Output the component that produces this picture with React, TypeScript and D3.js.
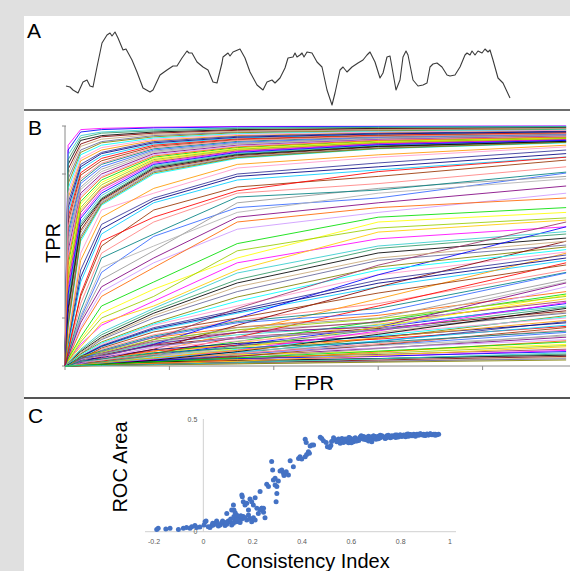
import React from "react";
import * as d3 from "d3";

const W = 570;
const H = 571;

// ---------- Panel A: signal trace ----------
const signalTime = [0,4,7,12,17,21,24,27,31,36,41,44,46,49,52,57,60,66,71,77,84,87,94,101,107,111,116,121,123,126,131,137,142,147,151,156,157,162,164,167,174,179,184,191,197,201,206,209,214,219,222,227,229,231,234,236,238,241,246,251,256,261,266,269,274,277,281,286,292,297,301,304,309,314,317,321,324,327,330,334,337,340,342,347,352,357,361,364,367,371,376,381,384,389,394,399,401,404,406,409,412,416,419,422,424,427,432,437,444];
const signalValue = [24,23,20,17,28,30,24,23,43,67,75,77,74,78,72,60,61,50,38,22,18,20,35,40,44,44,52,59,57,57,48,43,40,28,27,47,53,57,54,58,61,52,38,25,20,28,30,27,32,42,52,53,57,53,55,57,53,58,57,48,43,20,5,17,40,43,38,43,47,50,55,58,48,32,37,53,54,37,20,30,53,59,55,30,24,25,27,43,46,47,43,35,34,35,43,55,57,55,59,55,59,57,61,58,60,50,32,27,12];

// ---------- Panel B: ROC curves (TPR at each FPR breakpoint after 0) ----------
const fprBreaks = [0, 0.006, 0.03, 0.07, 0.17, 0.33, 0.6, 0.96];
const rocTopCurves = [
  [0.92,0.985,0.99,0.995,0.998,0.999,1.0],
  [0.90,0.975,0.985,0.992,0.996,0.998,0.999],
  [0.88,0.96,0.975,0.985,0.992,0.996,0.998],
  [0.86,0.95,0.97,0.98,0.99,0.994,0.996],
  [0.84,0.94,0.96,0.975,0.985,0.99,0.994],
  [0.82,0.925,0.955,0.97,0.982,0.988,0.992],
  [0.80,0.915,0.945,0.965,0.978,0.985,0.99],
  [0.78,0.90,0.935,0.96,0.975,0.983,0.988],
  [0.76,0.89,0.93,0.955,0.972,0.98,0.986],
  [0.74,0.88,0.92,0.95,0.968,0.977,0.984],
  [0.72,0.865,0.91,0.945,0.965,0.975,0.982],
  [0.70,0.855,0.90,0.94,0.96,0.972,0.98],
  [0.68,0.84,0.89,0.935,0.957,0.97,0.978],
  [0.66,0.83,0.885,0.93,0.953,0.967,0.976],
  [0.64,0.82,0.875,0.925,0.95,0.965,0.974],
  [0.62,0.805,0.865,0.92,0.946,0.962,0.972],
  [0.60,0.795,0.855,0.915,0.943,0.96,0.97],
  [0.58,0.78,0.845,0.91,0.94,0.957,0.968],
  [0.56,0.77,0.84,0.905,0.936,0.955,0.966],
  [0.54,0.76,0.83,0.90,0.932,0.952,0.964],
  [0.52,0.745,0.82,0.895,0.928,0.95,0.962],
  [0.50,0.735,0.81,0.89,0.925,0.947,0.96],
  [0.48,0.72,0.80,0.885,0.92,0.944,0.958],
  [0.46,0.71,0.79,0.88,0.917,0.942,0.956],
  [0.44,0.70,0.785,0.875,0.913,0.94,0.954],
  [0.42,0.685,0.775,0.87,0.91,0.937,0.952],
  [0.40,0.675,0.765,0.865,0.906,0.935,0.95],
  [0.38,0.66,0.755,0.86,0.903,0.932,0.948],
  [0.36,0.65,0.745,0.855,0.90,0.93,0.946],
  [0.34,0.64,0.74,0.85,0.896,0.927,0.944],
  [0.32,0.625,0.73,0.845,0.893,0.925,0.942],
  [0.30,0.615,0.72,0.84,0.89,0.922,0.94],
  [0.28,0.60,0.71,0.835,0.886,0.92,0.938],
  [0.26,0.59,0.70,0.83,0.883,0.917,0.937],
  [0.24,0.58,0.695,0.825,0.88,0.915,0.936],
  [0.22,0.565,0.69,0.82,0.876,0.913,0.935],
  [0.20,0.555,0.685,0.815,0.873,0.91,0.934],
  [0.18,0.54,0.68,0.81,0.87,0.908,0.933],
  [0.17,0.53,0.675,0.805,0.868,0.906,0.932],
  [0.16,0.52,0.67,0.80,0.865,0.905,0.93],
];
const rocMidCurves = [
  [0.12,0.47,0.65,0.72,0.825,0.87,0.913],
  [0.11,0.44,0.62,0.74,0.84,0.88,0.92],
  [0.10,0.40,0.59,0.70,0.80,0.846,0.90],
  [0.09,0.37,0.57,0.69,0.79,0.83,0.885],
  [0.08,0.35,0.55,0.68,0.775,0.817,0.871],
  [0.06,0.30,0.52,0.62,0.73,0.81,0.87],
  [0.07,0.29,0.50,0.65,0.746,0.79,0.858],
  [0.06,0.26,0.47,0.60,0.72,0.76,0.83],
  [0.05,0.23,0.45,0.55,0.704,0.733,0.808],
  [0.05,0.20,0.39,0.54,0.66,0.70,0.804],
  [0.04,0.19,0.36,0.48,0.68,0.74,0.79],
  [0.045,0.21,0.41,0.50,0.64,0.72,0.78],
  [0.04,0.18,0.33,0.45,0.62,0.68,0.75],
  [0.035,0.16,0.31,0.43,0.57,0.64,0.72],
  [0.03,0.15,0.29,0.41,0.60,0.66,0.70],
  [0.03,0.12,0.25,0.35,0.51,0.62,0.66],
  [0.025,0.11,0.22,0.32,0.45,0.60,0.64],
  [0.02,0.10,0.20,0.29,0.48,0.575,0.617],
  [0.02,0.08,0.18,0.25,0.40,0.558,0.608],
  [0.004,0.02,0.05,0.11,0.24,0.42,0.60],
  [0.02,0.09,0.17,0.27,0.43,0.53,0.58],
  [0.003,0.015,0.04,0.09,0.20,0.38,0.58],
  [0.015,0.07,0.14,0.24,0.3875,0.50,0.56],
  [0.012,0.065,0.13,0.23,0.36,0.49,0.55],
  [0.01,0.06,0.12,0.22,0.346,0.471,0.533],
  [0.002,0.01,0.03,0.07,0.17,0.33,0.52],
  [0.01,0.055,0.115,0.21,0.33,0.45,0.52],
  [0.01,0.05,0.11,0.20,0.31,0.44,0.504],
  [0.008,0.05,0.10,0.18,0.2875,0.4125,0.496],
  [0.007,0.045,0.095,0.175,0.27,0.40,0.485],
  [0.006,0.04,0.09,0.17,0.25,0.38,0.475],
  [0.002,0.01,0.03,0.06,0.14,0.28,0.47],
  [0.005,0.04,0.085,0.16,0.233,0.358,0.4625],
  [0.005,0.038,0.082,0.155,0.225,0.345,0.45],
  [0.004,0.035,0.08,0.15,0.22,0.33,0.44],
  [0.001,0.008,0.02,0.05,0.12,0.25,0.43],
  [0.003,0.03,0.075,0.142,0.20,0.304,0.421],
  [0.003,0.03,0.07,0.13,0.19,0.26,0.40],
  [0.003,0.028,0.065,0.125,0.185,0.24,0.39],
  [0.002,0.025,0.06,0.12,0.18,0.221,0.3875],
  [0.002,0.02,0.05,0.10,0.16,0.20,0.36],
  [0.002,0.018,0.045,0.095,0.15,0.18,0.35],
  [0.001,0.015,0.04,0.09,0.14,0.1625,0.346],
  [0.001,0.01,0.03,0.08,0.12,0.15,0.33],
];
const rocLowCurves = [
  [0,0.043,0.062,0.118,0.161,0.211,0.31],
  [0,0.009,0.021,0.054,0.102,0.186,0.30],
  [0,0.003,0.009,0.03,0.074,0.162,0.295],
  [0,0.041,0.058,0.11,0.151,0.197,0.29],
  [0,0.008,0.02,0.05,0.095,0.174,0.28],
  [0,0.038,0.054,0.103,0.14,0.184,0.27],
  [0,0.003,0.008,0.027,0.066,0.146,0.265],
  [0,0.008,0.018,0.047,0.088,0.161,0.26],
  [0,0.035,0.05,0.095,0.13,0.17,0.25],
  [0,0.007,0.017,0.044,0.083,0.152,0.245],
  [0,0.002,0.007,0.024,0.06,0.132,0.24],
  [0,0.032,0.046,0.087,0.12,0.156,0.23],
  [0,0.007,0.016,0.041,0.077,0.14,0.225],
  [0,0.031,0.044,0.084,0.114,0.15,0.22],
  [0,0.002,0.006,0.021,0.053,0.116,0.21],
  [0,0.006,0.014,0.037,0.07,0.127,0.205],
  [0,0.028,0.04,0.076,0.104,0.136,0.20],
  [0,0.006,0.013,0.034,0.065,0.118,0.19],
  [0,0.002,0.006,0.019,0.046,0.102,0.185],
  [0,0.025,0.036,0.068,0.094,0.122,0.18],
  [0,0.005,0.012,0.031,0.058,0.105,0.17],
  [0,0.023,0.033,0.063,0.086,0.112,0.165],
  [0,0.002,0.005,0.016,0.04,0.088,0.16],
  [0,0.005,0.011,0.027,0.051,0.093,0.15],
  [0,0.02,0.029,0.055,0.075,0.099,0.145],
  [0,0.004,0.01,0.025,0.048,0.087,0.14],
  [0,0.001,0.004,0.013,0.033,0.072,0.13],
  [0,0.018,0.025,0.048,0.065,0.085,0.125],
  [0,0.004,0.008,0.022,0.041,0.074,0.12],
  [0,0.015,0.022,0.042,0.057,0.075,0.11],
  [0,0.001,0.003,0.011,0.026,0.058,0.105],
  [0,0.003,0.007,0.018,0.034,0.062,0.10],
  [0,0.013,0.018,0.034,0.047,0.061,0.09],
  [0,0.003,0.006,0.015,0.029,0.053,0.085],
  [0,0.001,0.002,0.008,0.02,0.044,0.08],
  [0,0.01,0.014,0.027,0.036,0.048,0.07],
  [0,0.002,0.005,0.012,0.022,0.04,0.065],
  [0,0.008,0.012,0.023,0.031,0.041,0.06],
  [0,0.001,0.002,0.006,0.014,0.03,0.055],
  [0,0.002,0.004,0.009,0.017,0.031,0.05],
  [0,0.006,0.009,0.017,0.023,0.031,0.045],
  [0,0.001,0.003,0.007,0.014,0.025,0.04],
  [0,0,0.001,0.004,0.009,0.019,0.035],
  [0,0.004,0.006,0.011,0.016,0.02,0.03],
  [0,0.001,0.002,0.005,0.009,0.016,0.025],
];
const fprTicks = [0, 0.2, 0.4, 0.6, 0.8];
const tprTicks = [0, 0.2, 0.8, 1];
const curvePalette = ["#ff00ff","#000080","#ffff00","#00ffff","#800080","#800000","#008080","#0000ff","#00ccff","#99cc00","#ff99cc","#cc99ff","#c8a878","#3366ff","#33cccc","#ff0000","#ffcc00","#ff9900","#ff6600","#666699","#969696","#339966","#993300","#993366","#333399","#00dd00","#808000","#b0b0b0","#000000","#ff8080"];

// ---------- Panel C: ROC area vs consistency index ----------
const consistencyIndex = [
  -0.189,-0.183,-0.152,-0.135,-0.101,-0.081,-0.068,-0.054,-0.047,-0.034,-0.027,-0.014,0.003,0.007,0.011,0.027,0.034,0.041,0.047,0.054,0.061,0.068,0.074,0.081,0.088,0.095,0.101,0.108,0.115,0.122,0.129,0.135,0.142,0.149,0.156,0.162,0.176,0.183,0.189,0.196,0.203,0.210,0.223,0.230,0.237,0.244,0.250,
  0.020,0.038,0.057,0.078,0.092,0.111,0.124,0.138,0.152,0.169,
  0.095,0.115,0.122,0.124,0.129,0.135,0.156,0.158,0.162,0.169,0.176,0.183,0.189,0.196,0.203,0.210,0.217,0.230,0.237,0.244,0.257,0.264,0.277,0.281,0.284,0.291,0.291,0.298,0.298,0.295,0.304,0.311,0.318,0.325,0.327,0.336,0.345,0.352,0.365,0.386,0.392,0.399,0.413,0.419,0.426,0.430,0.440,0.447,0.413,0.417,
  0.433,0.474,0.480,0.487,0.498,0.503,0.512,0.517,0.528,0.541,0.548,0.555,0.562,0.568,0.575,0.582,0.589,0.595,0.602,0.609,0.616,0.622,0.629,0.636,0.643,0.650,0.656,0.663,0.670,0.677,0.683,0.690,0.697,0.704,0.710,0.717,0.724,0.731,0.737,0.744,0.751,0.758,0.765,0.771,0.778,0.785,0.792,0.798,0.805,0.812,0.819,0.825,0.832,0.839,0.846,0.853,0.859,0.866,0.873,0.880,0.886,0.893,0.900,0.907,0.913,0.920,0.927,0.934,0.940,0.947,0.954,
  0.582,0.593,0.612,0.541,0.528,0.650,0.663,0.683,0.690,0.717,0.744,0.765,0.785,0.805,0.832,0.853,0.873,0.893,0.913,
  0.52,0.55,0.57,0.59,0.61,0.63,0.64,0.66,0.68,0.70,0.72,0.74,0.76,0.78,0.80,0.82,0.84,0.86,0.88,0.90,0.92,0.94,0.60,0.62,0.67,0.69,0.71,0.75,0.79,0.83,
];
const rocArea = [
  0.010,0.015,0.012,0.015,0.010,0.015,0.019,0.015,0.022,0.027,0.019,0.021,0.030,0.044,0.047,0.019,0.027,0.030,0.037,0.047,0.025,0.030,0.040,0.037,0.027,0.033,0.047,0.044,0.030,0.037,0.052,0.044,0.059,0.041,0.056,0.067,0.052,0.074,0.059,0.044,0.062,0.052,0.081,0.096,0.104,0.086,0.062,
  0.022,0.038,0.033,0.047,0.041,0.056,0.067,0.056,0.071,0.062,
  0.081,0.096,0.118,0.096,0.084,0.074,0.163,0.155,0.133,0.118,0.126,0.096,0.145,0.133,0.118,0.151,0.104,0.178,0.104,0.104,0.210,0.200,0.311,0.274,0.229,0.237,0.207,0.200,0.170,0.133,0.225,0.269,0.274,0.259,0.249,0.266,0.251,0.315,0.288,0.325,0.333,0.322,0.333,0.343,0.355,0.348,0.385,0.385,0.410,0.396,
  0.380,0.419,0.414,0.404,0.396,0.377,0.374,0.382,0.407,0.407,0.411,0.392,0.414,0.396,0.411,0.399,0.395,0.414,0.407,0.399,0.417,0.402,0.411,0.420,0.414,0.422,0.417,0.411,0.423,0.414,0.399,0.417,0.422,0.414,0.423,0.417,0.426,0.420,0.414,0.426,0.422,0.417,0.426,0.422,0.429,0.425,0.422,0.430,0.426,0.429,0.425,0.432,0.428,0.430,0.426,0.432,0.429,0.432,0.428,0.433,0.430,0.432,0.429,0.433,0.430,0.433,0.430,0.432,0.432,0.430,0.432,
  0.410,0.417,0.411,0.399,0.417,0.410,0.419,0.411,0.425,0.428,0.419,0.420,0.429,0.422,0.423,0.428,0.432,0.428,0.429,
  0.400,0.405,0.402,0.418,0.412,0.405,0.426,0.408,0.420,0.410,0.422,0.416,0.424,0.418,0.427,0.421,0.431,0.424,0.435,0.427,0.435,0.428,0.395,0.404,0.402,0.425,0.412,0.428,0.420,0.433,
];
const ciTicks = [-0.2, 0, 0.2, 0.4, 0.6, 0.8, 1];
const areaTicks = [0, 0.5];

const FONT = "'Liberation Sans', Arial, sans-serif";

export default function App() {
  // Panel A scales
  const ax = d3.scaleLinear().domain([0, 444]).range([66, 510]);
  const ay = d3.scaleLinear().domain([0, 100]).range([110, 10]);
  const aLine = d3
    .line<number>()
    .x((_, i) => ax(signalTime[i]))
    .y((d) => ay(d));

  // Panel B scales
  const bx = d3.scaleLinear().domain([0, 1]).range([65, 587]);
  const by = d3.scaleLinear().domain([0, 1]).range([366, 126]);
  const bLine = d3
    .line<number>()
    .x((_, i) => bx(fprBreaks[i]))
    .y((d) => by(d));
  const allCurves = [...rocTopCurves, ...rocMidCurves, ...rocLowCurves].map((c) => [0, ...c]);
  const n = allCurves.length;
  // interleave drawing order so no group dominates
  const order = d3.range(n).sort((a, b) => ((a * 37) % n) - ((b * 37) % n));

  // Panel C scales
  const cx = d3.scaleLinear().domain([-0.2, 1]).range([154, 450]);
  const cy = d3.scaleLinear().domain([0, 0.5]).range([531.7, 419]);

  return (
    <div style={{ position: "absolute", left: 0, top: 0 }}>
      <svg width={W} height={H} style={{ display: "block", fontFamily: FONT }}>
        <rect x={0} y={0} width={W} height={H} fill="#e0e0e0" />
        <rect x={24} y={16} width={W - 24} height={H - 16} fill="#ffffff" />

        {/* Panel A */}
        <text x={27} y={38} fontSize={21} fill="#000">A</text>
        <path d={aLine(signalValue) || ""} fill="none" stroke="#3a3a3a" strokeWidth={1.1} strokeLinejoin="round" />
        <line x1={24} x2={W} y1={110} y2={110} stroke="#3c3c3c" strokeWidth={1.6} />

        {/* Panel B */}
        <text x={28} y={135} fontSize={21} fill="#000">B</text>
        <line x1={bx(0)} x2={bx(0)} y1={by(1)} y2={by(0)} stroke="#8a8a8a" strokeWidth={1} />
        {tprTicks.map((t) => (
          <line key={"yt" + t} x1={bx(0) - 3} x2={bx(0) + 1} y1={by(t)} y2={by(t)} stroke="#8a8a8a" strokeWidth={1} />
        ))}
        <line x1={bx(0)} x2={W} y1={by(0)} y2={by(0)} stroke="#8a8a8a" strokeWidth={1} />
        {fprTicks.map((t) => (
          <line key={"xt" + t} x1={bx(t)} x2={bx(t)} y1={by(0)} y2={by(0) + 4} stroke="#8a8a8a" strokeWidth={1} />
        ))}
        <g>
          {order.map((i) => (
            <path
              key={"c" + i}
              d={bLine(allCurves[i]) || ""}
              fill="none"
              stroke={curvePalette[(i * 7) % curvePalette.length]}
              strokeWidth={1}
              strokeOpacity={0.85}
            />
          ))}
        </g>
        <text x={0} y={0} fontSize={20} textAnchor="middle" transform="translate(60,243) rotate(-90)">TPR</text>
        <text x={314} y={390} fontSize={20} textAnchor="middle">FPR</text>
        <line x1={24} x2={W} y1={398} y2={398} stroke="#555555" strokeWidth={2} />

        {/* Panel C */}
        <text x={28} y={423} fontSize={21} fill="#000">C</text>
        <line x1={cx(0)} x2={cx(0)} y1={cy(0.5)} y2={cy(0)} stroke="#d0d0d0" strokeWidth={1} />
        <line x1={145} x2={456} y1={cy(0)} y2={cy(0)} stroke="#d0d0d0" strokeWidth={1} />
        {areaTicks.map((t) => (
          <text key={"at" + t} x={cx(0) - 6} y={cy(t) + 2.5} fontSize={7} fill="#595959" textAnchor="end">
            {String(t)}
          </text>
        ))}
        {ciTicks.map((t) => (
          <text key={"ct" + t} x={cx(t)} y={544} fontSize={7} fill="#595959" textAnchor="middle">
            {String(t)}
          </text>
        ))}
        {consistencyIndex.map((v, i) => (
          <circle key={"p" + i} cx={cx(v)} cy={cy(rocArea[i])} r={2.5} fill="#4472c4" />
        ))}
        <text x={0} y={0} fontSize={20} textAnchor="middle" transform="translate(127,467) rotate(-90)">ROC Area</text>
        <text x={308} y={568} fontSize={20} textAnchor="middle">Consistency Index</text>
      </svg>
    </div>
  );
}
